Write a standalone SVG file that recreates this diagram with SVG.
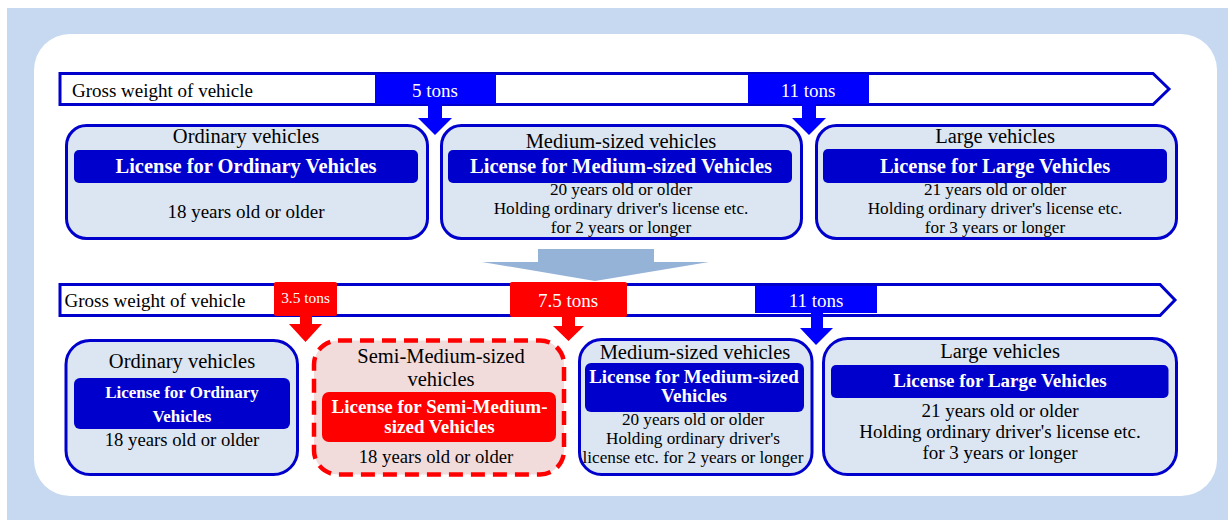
<svg xmlns="http://www.w3.org/2000/svg" width="1228" height="520" viewBox="0 0 1228 520">
<style>
text{font-family:"Liberation Serif","Times New Roman",serif;fill:#000;text-anchor:middle}
.bar{fill:#fff;stroke:#0000CC;stroke-width:3;stroke-linejoin:miter}
.box{fill:#DCE6F2;stroke:#0000CC;stroke-width:3}
.semi{fill:#F2DCDB;stroke:#FF0000;stroke-width:4.5;stroke-dasharray:14 8}
.inb{fill:#0000CC}
.inr{fill:#FF0000}
.tb{fill:#0000FF}
.tr{fill:#FF0000}
.ab{fill:#0000FF}
.ar{fill:#FF0000}
.w{fill:#fff}
.b{font-weight:bold;fill:#fff}
.t{font-size:20.5px}
.s19{font-size:19px}
.s17{font-size:17.2px}
.l{text-anchor:start}
</style>
<rect x="7" y="8" width="1221" height="512" fill="#C6D9F1"/>
<rect x="34" y="34" width="1183" height="462" rx="36" fill="#fff"/>

<g id="bar-top">
<path class="bar" d="M60,73.5 H1153 L1169,89 L1153,104.5 H60 Z"/>
<text class="l s19" x="72" y="97">Gross weight of vehicle</text>
</g>
<g id="t5">
<rect class="tb" x="375" y="74" width="121" height="30"/>
<text class="w s19" x="435" y="97">5 tons</text>
</g>
<g id="t11a">
<rect class="tb" x="748" y="74" width="121" height="30"/>
<text class="w s19" x="808" y="97">11 tons</text>
</g>

<g id="bar-bottom">
<path class="bar" d="M60,284.5 H1160 L1175,300 L1160,315.5 H60 Z"/>
<text class="l s19" x="64.5" y="307">Gross weight of vehicle</text>
</g>
<g id="t35">
<rect class="tr" x="274" y="282" width="63" height="34" rx="2"/>
<text class="w" style="font-size:15.4px" x="305.5" y="303">3.5 tons</text>
</g>
<g id="t75">
<rect class="tr" x="510" y="282" width="117" height="35" rx="2"/>
<text class="w s19" x="568" y="307">7.5 tons</text>
</g>
<g id="t11b">
<rect class="tb" x="755" y="286" width="122" height="27"/>
<text class="w s19" x="816" y="307">11 tons</text>
</g>

<g id="connectors">
<polygon class="ab" points="428,104 442,104 442,118 452,118 435,135 418,118 428,118"/>
<polygon class="ab" points="802,104 816,104 816,118 826,118 809,135 792,118 802,118"/>
<polygon class="ar" points="300,316 312,316 312,324 322,324 305.5,342 289,324 300,324"/>
<polygon class="ar" points="562,317 575,317 575,326 584,326 568.5,341 553,326 562,326"/>
<polygon class="ab" points="811,313 823,313 823,328 833,328 816,345 800,328 811,328"/>
<polygon fill="#95B3D7" points="538,249 654,249 654,262 709,262 595,281 482,262 538,262"/>
</g>

<g id="top-ordinary">
<rect class="box" x="66.5" y="125.5" width="361" height="113" rx="20"/>
<rect class="inb" x="74" y="150" width="344" height="33" rx="5"/>
<text class="t" x="246" y="143">Ordinary vehicles</text>
<text class="b t" x="246" y="173">License for Ordinary Vehicles</text>
<text class="s19" x="246" y="218">18 years old or older</text>
</g>
<g id="top-medium">
<rect class="box" x="441.5" y="125.5" width="360" height="113" rx="20"/>
<rect class="inb" x="448" y="150" width="344" height="33" rx="5"/>
<text class="t" x="621" y="148">Medium-sized vehicles</text>
<text class="b t" x="621" y="173">License for Medium-sized Vehicles</text>
<text class="s17" x="621" y="195">20 years old or older</text>
<text class="s17" x="621" y="214">Holding ordinary driver's license etc.</text>
<text class="s17" x="621" y="233">for 2 years or longer</text>
</g>
<g id="top-large">
<rect class="box" x="816.5" y="125.5" width="360" height="113" rx="20"/>
<rect class="inb" x="823" y="149" width="344" height="34" rx="5"/>
<text class="t" x="995" y="143">Large vehicles</text>
<text class="b t" x="995" y="173">License for Large Vehicles</text>
<text class="s17" x="995" y="195">21 years old or older</text>
<text class="s17" x="995" y="214">Holding ordinary driver's license etc.</text>
<text class="s17" x="995" y="233">for 3 years or longer</text>
</g>

<g id="bottom-ordinary">
<rect class="box" x="66" y="340.5" width="231.5" height="134" rx="24"/>
<rect class="inb" x="74" y="378" width="216" height="51" rx="6"/>
<text class="t" x="182" y="368">Ordinary vehicles</text>
<text class="b" style="font-size:17px" x="182" y="398">License for Ordinary</text>
<text class="b" style="font-size:17px" x="182" y="422">Vehicles</text>
<text style="font-size:18.7px" x="182" y="446">18 years old or older</text>
</g>
<g id="bottom-semi-medium">
<rect class="semi" x="314" y="340.5" width="250" height="134" rx="24"/>
<rect class="inr" x="322" y="392" width="234" height="50" rx="7"/>
<text class="t" x="441" y="363">Semi-Medium-sized</text>
<text class="t" x="441" y="386">vehicles</text>
<text class="b s19" x="439.5" y="412.5">License for Semi-Medium-</text>
<text class="b s19" x="439.5" y="433">sized Vehicles</text>
<text style="font-size:18.7px" x="436" y="463">18 years old or older</text>
</g>
<g id="bottom-medium">
<rect class="box" x="579.5" y="339.5" width="232.5" height="135" rx="22"/>
<rect class="inb" x="585" y="363" width="219" height="49" rx="6"/>
<text class="t" x="695" y="359">Medium-sized vehicles</text>
<text class="b s19" x="694" y="383">License for Medium-sized</text>
<text class="b s19" x="694" y="402">Vehicles</text>
<text class="s17" x="693" y="425">20 years old or older</text>
<text class="s17" x="693" y="444">Holding ordinary driver's</text>
<text class="s17" x="693" y="463">license etc. for 2 years or longer</text>
</g>
<g id="bottom-large">
<rect class="box" x="823.5" y="338.5" width="353" height="136" rx="24"/>
<rect class="inb" x="831" y="365" width="337.5" height="33" rx="5"/>
<text class="t" x="1000" y="358">Large vehicles</text>
<text class="b s19" x="1000" y="387">License for Large Vehicles</text>
<text class="s19" x="1000" y="417">21 years old or older</text>
<text class="s19" x="1000" y="438">Holding ordinary driver's license etc.</text>
<text class="s19" x="1000" y="459">for 3 years or longer</text>
</g>
</svg>
